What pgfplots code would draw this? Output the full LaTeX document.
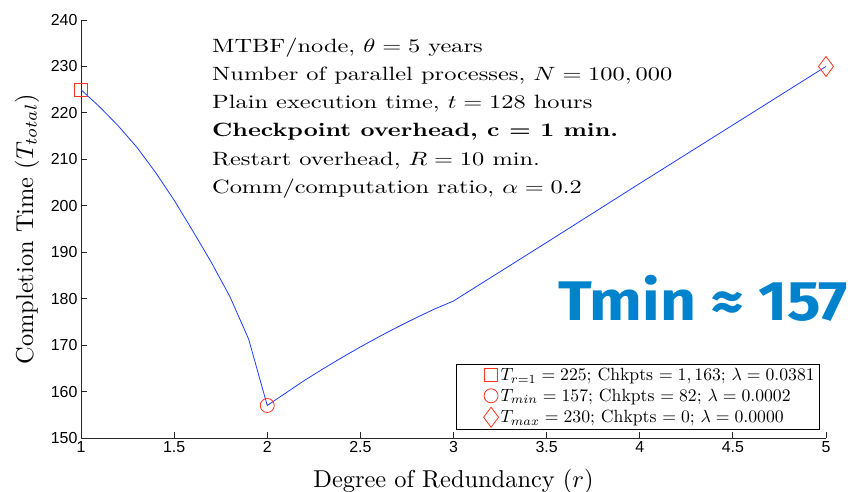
\documentclass[border=0pt]{standalone}
\usepackage{pgfplots}
\pgfplotsset{compat=1.18}
\usepackage{fontspec}
\newfontfamily\ticksf{Liberation Sans}
\newfontfamily\notefont{Fira Sans}

\definecolor{lineblue}{RGB}{30,60,255}
\definecolor{markred}{RGB}{255,50,30}
\definecolor{noteblue}{RGB}{0,130,205}

% text is set at 10pt (cmr10 shapes) and enlarged
\newcommand{\lbl}[1]{\scalebox{2.45}{#1}}
\newcommand{\leg}[1]{\scalebox{1.775}{#1}}

\begin{document}
\begin{tikzpicture}
\begin{axis}[
  name=ax,
  scale only axis,
  width=745bp, height=418bp,
  xmin=1, xmax=5, ymin=150, ymax=240,
  xtick={1,1.5,...,5}, ytick={150,160,...,240},
  axis x line*=bottom, axis y line*=left,
  axis line style={black!85, line width=0.8bp},
  tick align=inside, major tick length=6bp,
  tick style={black!85, line width=0.8bp},
  /pgf/number format/assume math mode=true,
  ticklabel style={font=\ticksf\fontsize{16}{16}\selectfont},
  label style={font=\fontsize{10}{12}\selectfont, inner sep=0pt},
  xlabel={\lbl{Degree of Redundancy ($r$)}},
  ylabel={\lbl{Completion Time ($T_{total}$)}},
  xlabel style={at={(axis description cs:0.5,-0.1196)}, anchor=base},
  ylabel style={at={(axis description cs:-0.0644,0.5)}, anchor=base},
  legend style={at={(rel axis cs:0.992,0.019)}, anchor=south east,
    draw=black, line width=0.6bp, fill=white,
    font=\fontsize{10}{12}\selectfont,
    inner xsep=3bp, inner ysep=2.5bp, row sep=2.5bp},
  legend cell align=left,
  clip=false,
]
% completion time versus degree of redundancy
\addplot[lineblue, line width=0.8bp, forget plot] coordinates {
  (1.0,225.0) (1.1,221.3) (1.2,217.2) (1.3,212.6) (1.4,207.2)
  (1.5,201.2) (1.6,194.6) (1.7,187.8) (1.8,180.4) (1.9,171.3)
  (2.0,157.0) (2.1,159.7) (2.2,162.4) (2.3,164.9) (2.4,167.3)
  (2.5,169.6) (2.6,171.8) (2.7,173.9) (2.8,175.9) (2.9,177.8)
  (3.0,179.5) (3.5,192.1) (4.0,204.8) (4.5,217.4) (5.0,230.0)
};
% highlighted points
\pgfplotsset{markleg/.style={legend image code/.code={
  \path (0bp,0bp); \draw[##1] plot coordinates {(31bp,0bp)};}}}
\addplot[only marks, mark=square, mark size=6.5bp, markred, line width=0.8bp, markleg]
  coordinates {(1,225)};
\addlegendentry{\leg{$T_{r=1}=225$; Chkpts $=1,163$; $\lambda=0.0381$}}
\addplot[only marks, mark=o, mark size=7bp, markred, line width=0.8bp, markleg]
  coordinates {(2,157)};
\addlegendentry{\leg{$T_{min}=157$; Chkpts $=82$; $\lambda=0.0002$}}
\addplot[only marks, mark=diamond, mark size=10bp, markred, line width=0.8bp, markleg]
  coordinates {(5,230)};
\addlegendentry{\leg{$T_{max}=230$; Chkpts $=0$; $\lambda=0.0000$}}

% model parameters
\node[anchor=base west, inner sep=0pt, font=\fontsize{10}{14.72}\selectfont]
  at (rel axis cs:0.1758,0.9234)
  {\scalebox{2.45}[1.93]{\begin{tabular}[t]{@{}l@{}}
   MTBF/node, $\theta = 5$ years\\
   Number of parallel processes, $N=100,000$\\
   Plain execution time, $t=128$ hours\\
   \textbf{Checkpoint overhead, c {\boldmath$=$} 1 min.}\\
   Restart overhead, $R=10$ min.\\
   Comm/computation ratio, $\alpha=0.2$
   \end{tabular}}};

\node[anchor=base west, inner sep=0pt, text=noteblue,
      font=\notefont\bfseries\fontsize{56}{56}\selectfont]
  at (axis cs:3.56,175.4) {\scalebox{1.12}[1]{Tmin ≈ 157}};
\end{axis}
\pgfresetboundingbox
\path ([xshift=-81bp,yshift=-54bp]ax.south west) rectangle ([xshift=22bp,yshift=20bp]ax.north east);
\end{tikzpicture}
\end{document}
